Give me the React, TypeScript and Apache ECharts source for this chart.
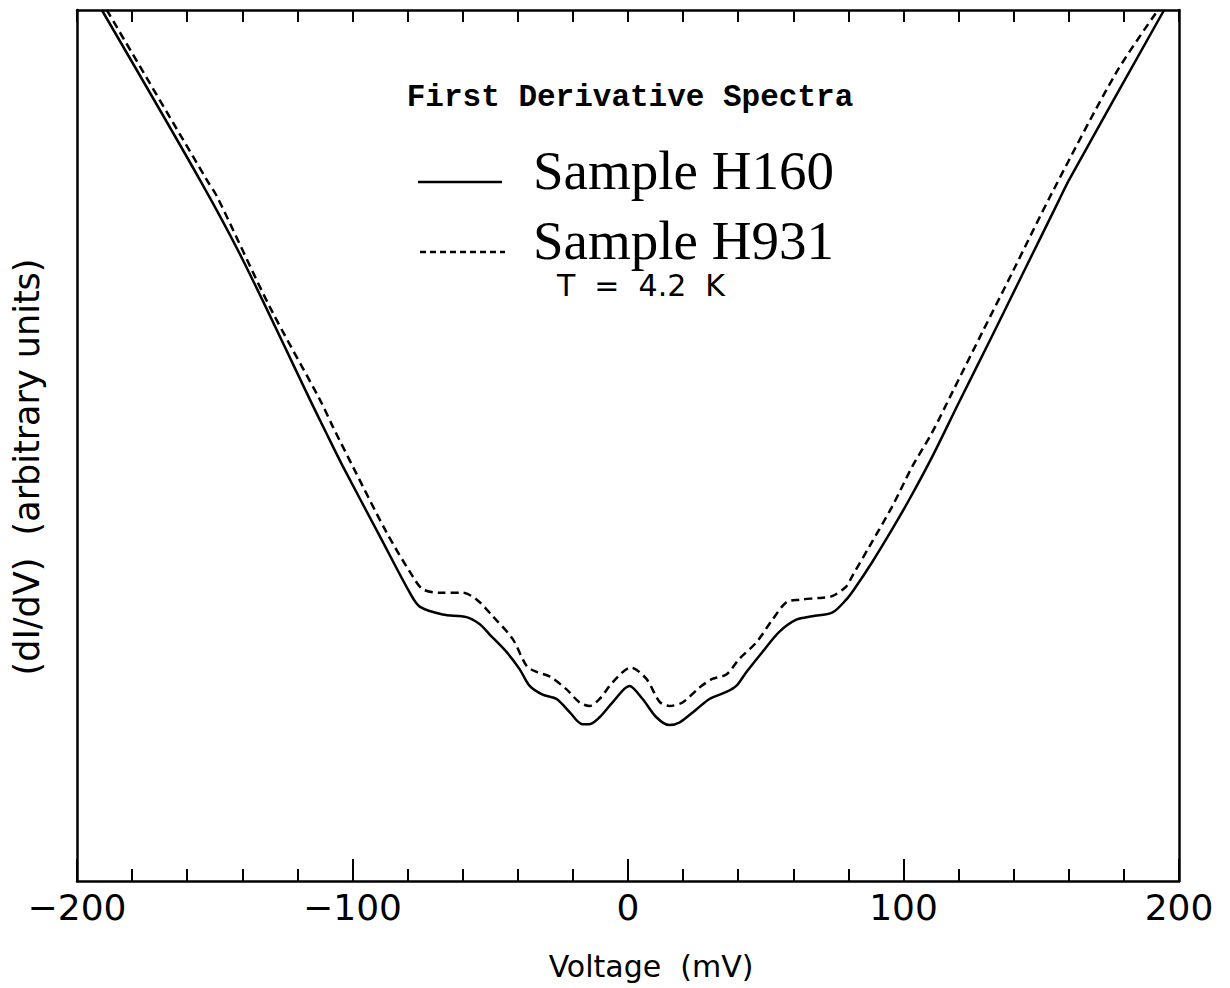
import React, { useEffect, useRef } from "react";
import * as echarts from "echarts";

// Sample H160 (solid)
const h160Voltage = [-191, -155.4, -139.8, -115.5, -110.1, -103.5, -90.1, -79.2, -75.6, -67.3, -58.6, -53.9, -50.2, -44.1, -39.3, -35.7, -31.0, -25.9, -21.2, -16.5, -14.0, -10.3, -5.6, 0.5, 5.3, 10.3, 15.0, 18.7, 24.8, 29.6, 35.7, 39.3, 43.0, 48.8, 54.9, 61.1, 66.9, 74.1, 79.2, 82.1, 88.6, 95.9, 102.1, 110.4, 120.2, 132.2, 143.1, 156.5, 160.1, 194.6];
const h160Signal = [100, 80.5, 71.3, 55.3, 51.8, 47.6, 39.6, 33.1, 31.5, 30.6, 30.3, 29.5, 28.3, 26.3, 24.3, 22.4, 21.4, 20.9, 19.4, 18.0, 18.0, 18.8, 20.5, 22.4, 20.9, 18.8, 17.9, 18.2, 19.7, 20.9, 21.7, 22.4, 24.0, 26.3, 28.6, 30.0, 30.4, 30.8, 32.3, 33.5, 36.6, 40.4, 43.8, 48.7, 55.0, 62.6, 69.6, 78.2, 80.5, 100];

// Sample H931 (dashed)
const h931Voltage = [-189.2, -152.9, -149.2, -130.0, -111.9, -107.2, -99.9, -87.6, -78.2, -74.5, -68.4, -60.0, -54.9, -49.1, -41.9, -36.8, -33.2, -28.5, -22.3, -17.6, -14.0, -10.3, -5.6, 1.0, 6.7, 11.4, 15.0, 19.8, 25.9, 30.6, 35.7, 40.4, 46.6, 52.4, 57.5, 62.2, 69.4, 74.1, 79.2, 81.4, 87.6, 95.9, 103.2, 110.4, 117.7, 128.6, 139.4, 153.9, 177.2, 192.4];
const h931Signal = [100, 80.5, 78.6, 65.9, 55.3, 52.2, 47.6, 40.0, 35.0, 33.5, 33.1, 33.1, 32.3, 30.4, 27.8, 24.7, 24.0, 23.5, 22.0, 20.5, 20.1, 20.9, 22.8, 24.5, 23.2, 20.6, 20.1, 20.5, 22.2, 23.2, 23.7, 25.5, 27.4, 30.0, 32.0, 32.3, 32.5, 32.7, 33.8, 35.0, 38.4, 43.0, 47.6, 51.5, 56.1, 63.0, 69.8, 79.0, 92.8, 100];

const xTicks = [-200, -100, 0, 100, 200];

const seriesNames = ["Sample H160", "Sample H931"];

export default function App() {
  const ref = useRef<HTMLDivElement>(null);
  useEffect(() => {
    document.body.style.margin = "0";
    const chart = echarts.init(ref.current!, null, { renderer: "svg" });
    const frame = { show: true, onZero: false, lineStyle: { color: "#000", width: 2.5 } };
    const sans = "DejaVu Sans";
    chart.setOption({
      animation: false,
      backgroundColor: "#fff",
      grid: { left: 77, right: 51, top: 10, bottom: 107 },
      xAxis: [
        {
          type: "value",
          min: xTicks[0],
          max: xTicks[xTicks.length - 1],
          interval: 100,
          position: "bottom",
          axisLine: frame,
          axisTick: { show: true, inside: true, length: 22, lineStyle: { color: "#000", width: 2 } },
          minorTick: { show: true, splitNumber: 5, length: 12, lineStyle: { color: "#000", width: 2 } },
          splitLine: { show: false },
          axisLabel: {
            show: true,
            margin: 8,
            fontSize: 36,
            fontFamily: sans,
            color: "#000",
            formatter: (v: number) => (v < 0 ? "\u2212" + Math.abs(v) : String(v)),
          },
        },
        {
          type: "value",
          min: -200,
          max: 200,
          interval: 20,
          position: "top",
          axisLine: frame,
          axisTick: { show: true, inside: true, length: 12, lineStyle: { color: "#000", width: 2 } },
          axisLabel: { show: false },
          splitLine: { show: false },
        },
      ],
      yAxis: [
        {
          type: "value",
          min: 0,
          max: 100,
          position: "left",
          axisLine: frame,
          axisTick: { show: false },
          axisLabel: { show: false },
          splitLine: { show: false },
        },
        {
          type: "value",
          min: 0,
          max: 100,
          position: "right",
          axisLine: frame,
          axisTick: { show: false },
          axisLabel: { show: false },
          splitLine: { show: false },
        },
      ],
      series: [
        {
          name: seriesNames[0],
          type: "line",
          xAxisIndex: 0,
          yAxisIndex: 0,
          showSymbol: false,
          smooth: 0.3,
          clip: true,
          lineStyle: { color: "#000", width: 2.5, type: "solid" },
          data: h160Voltage.map((v, i) => [v, h160Signal[i]]),
        },
        {
          name: seriesNames[1],
          type: "line",
          xAxisIndex: 0,
          yAxisIndex: 0,
          showSymbol: false,
          smooth: 0.3,
          clip: true,
          lineStyle: { color: "#000", width: 2.5, type: [8, 5] },
          data: h931Voltage.map((v, i) => [v, h931Signal[i]]),
        },
      ],
      graphic: [
        {
          type: "text",
          x: 630,
          y: 97,
          style: {
            text: "First Derivative Spectra",
            fontFamily: "Liberation Mono",
            fontWeight: "bold",
            fontSize: 31,
            fill: "#000",
            align: "center",
            verticalAlign: "middle",
          },
        },
        {
          type: "line",
          shape: { x1: 418, y1: 182, x2: 502, y2: 182 },
          style: { stroke: "#000", lineWidth: 2.5 },
        },
        {
          type: "text",
          x: 533,
          y: 170,
          style: {
            text: seriesNames[0],
            fontFamily: "Liberation Serif",
            fontSize: 55,
            fill: "#000",
            align: "left",
            verticalAlign: "middle",
          },
        },
        {
          type: "line",
          shape: { x1: 420, y1: 252, x2: 505, y2: 252 },
          style: { stroke: "#000", lineWidth: 2.5, lineDash: [6, 4] },
        },
        {
          type: "text",
          x: 533,
          y: 240,
          style: {
            text: seriesNames[1],
            fontFamily: "Liberation Serif",
            fontSize: 55,
            fill: "#000",
            align: "left",
            verticalAlign: "middle",
          },
        },
        {
          type: "text",
          x: 641,
          y: 285,
          style: {
            text: "T  =  4.2  K",
            fontFamily: sans,
            fontSize: 30,
            fill: "#000",
            align: "center",
            verticalAlign: "middle",
          },
        },
        {
          type: "text",
          x: 651,
          y: 966,
          style: {
            text: "Voltage  (mV)",
            fontFamily: sans,
            fontSize: 30,
            fill: "#000",
            align: "center",
            verticalAlign: "middle",
          },
        },
        {
          type: "text",
          x: 27,
          y: 467,
          rotation: Math.PI / 2,
          style: {
            text: "(dI/dV)  (arbitrary units)",
            fontFamily: sans,
            fontSize: 35,
            fill: "#000",
            align: "center",
            verticalAlign: "middle",
          },
        },
      ],
    });
    return () => chart.dispose();
  }, []);
  return <div ref={ref} style={{ width: 1230, height: 988 }} />;
}
